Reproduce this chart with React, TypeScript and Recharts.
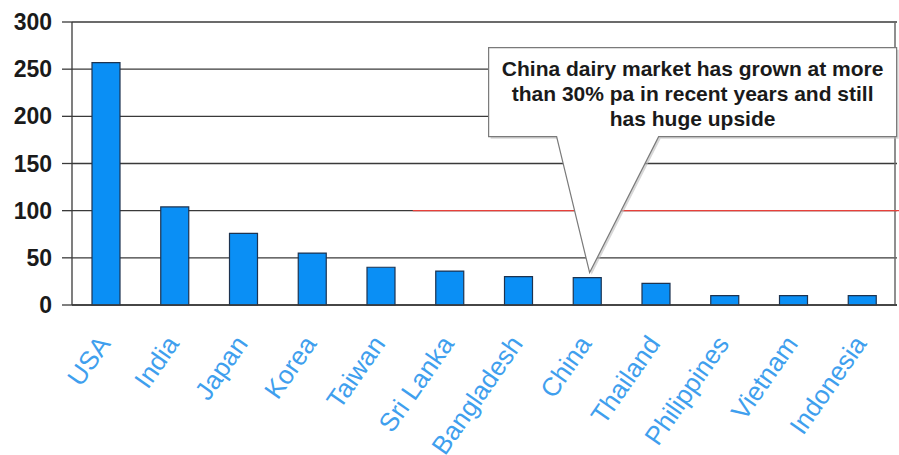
import React from "react";
import {
  BarChart,
  Bar,
  XAxis,
  YAxis,
  CartesianGrid,
  ReferenceLine,
  ReferenceDot,
} from "recharts";

const countries = [
  "USA",
  "India",
  "Japan",
  "Korea",
  "Taiwan",
  "Sri Lanka",
  "Bangladesh",
  "China",
  "Thailand",
  "Philippines",
  "Vietnam",
  "Indonesia",
];
const consumption = [257, 104, 76, 55, 40, 36, 30, 29, 23, 10, 10, 10];
const yTicks = [0, 50, 100, 150, 200, 250, 300];
const calloutLines = [
  "China dairy market has grown at more",
  "than 30% pa in recent years and still",
  "has huge upside",
];

const data = countries.map((name, i) => ({ name, value: consumption[i] }));

const XTick = (props: any) => {
  const { x, y, payload } = props;
  const tx = x + 5;
  const ty = y + 31;
  return (
    <text
      x={tx}
      y={ty}
      transform={`rotate(-55, ${tx}, ${ty})`}
      textAnchor="end"
      fill="#3f9fee"
      fontSize={26}
      fontFamily="Liberation Sans, Arial, sans-serif"
    >
      {payload.value}
    </text>
  );
};

const YTick = (props: any) => {
  const { x, y, payload } = props;
  return (
    <text
      x={x + 2}
      y={y + 8}
      textAnchor="end"
      fill="#1a1a1a"
      fontSize={23}
      fontWeight="bold"
      fontFamily="Liberation Sans, Arial, sans-serif"
    >
      {payload.value}
    </text>
  );
};

// red line starts partway along the axis and runs past the right edge
const RedLine = (props: any) => {
  const { x1, x2, y1 } = props;
  const start = x1 + ((x2 - x1) * 5) / 12 - 3;
  return <line x1={start} y1={y1} x2={x2 + 6} y2={y1} stroke="#e8403a" strokeWidth={1.2} />;
};

// grey right border: segment runs first to last category, edge is half a band further
const RightBorder = (props: any) => {
  const { x1, x2, y1, y2 } = props;
  const band = (x2 - x1) / (countries.length - 1);
  const edge = x2 + band / 2 - 2;
  return <line x1={edge} y1={y1} x2={edge} y2={y2} stroke="#6a6a6a" strokeWidth={1.5} />;
};

// speech bubble pointing at the China bar
const Callout = (props: any) => {
  const { cx, cy } = props;
  const tx = cx + 2;
  const ty = cy - 5;
  const left = tx - 101;
  const right = tx + 307;
  const top = ty - 225;
  const bottom = ty - 136;
  const b1 = tx - 33;
  const b2 = tx + 69;
  const path = `M${left},${top} L${right},${top} L${right},${bottom} L${b2},${bottom} L${tx},${ty} L${b1},${bottom} L${left},${bottom} Z`;
  const mid = (left + right) / 2;
  return (
    <g>
      <path d={path} transform="translate(2,2)" fill="#bdbdbd" opacity={0.6} />
      <path d={path} fill="#ffffff" stroke="#7a7a7a" strokeWidth={1.2} />
      {calloutLines.map((t, i) => (
        <text
          key={t}
          x={mid}
          y={top + 28 + i * 25}
          textAnchor="middle"
          fill="#1a1a1a"
          fontSize={21}
          fontWeight="bold"
          fontFamily="Liberation Sans, Arial, sans-serif"
        >
          {t}
        </text>
      ))}
    </g>
  );
};

export default function App() {
  return (
    <div
      style={{
        position: "absolute",
        left: 0,
        top: 0,
        width: 899,
        height: 455,
        overflow: "hidden",
        background: "#fff",
      }}
    >
      <BarChart
        width={899}
        height={455}
        data={data}
        margin={{ top: 22, right: 2, bottom: 0, left: 0 }}
      >
        <CartesianGrid vertical={false} stroke="#3a3a3a" strokeWidth={1.3} />
        <XAxis
          dataKey="name"
          interval={0}
          height={150}
          tickLine={false}
          axisLine={{ stroke: "#3a3a3a", strokeWidth: 1.3 }}
          tick={<XTick />}
        />
        <YAxis
          width={72}
          domain={[0, 300]}
          ticks={yTicks}
          interval={0}
          tickSize={10}
          tickMargin={12}
          tickLine={{ stroke: "#3a3a3a", strokeWidth: 1.3 }}
          axisLine={{ stroke: "#3a3a3a", strokeWidth: 1.3 }}
          tick={<YTick />}
        />
        <ReferenceLine
          segment={[
            { x: countries[0], y: 0 },
            { x: countries[countries.length - 1], y: 300 },
          ]}
          shape={<RightBorder />}
          ifOverflow="visible"
        />
        <ReferenceLine y={100} shape={<RedLine />} ifOverflow="visible" />
        <Bar
          dataKey="value"
          barSize={28}
          fill="#0a8ff5"
          stroke="#1d3350"
          strokeWidth={1.2}
          isAnimationActive={false}
        />
        <ReferenceDot x="China" y={29} shape={<Callout />} ifOverflow="visible" />
      </BarChart>
    </div>
  );
}
